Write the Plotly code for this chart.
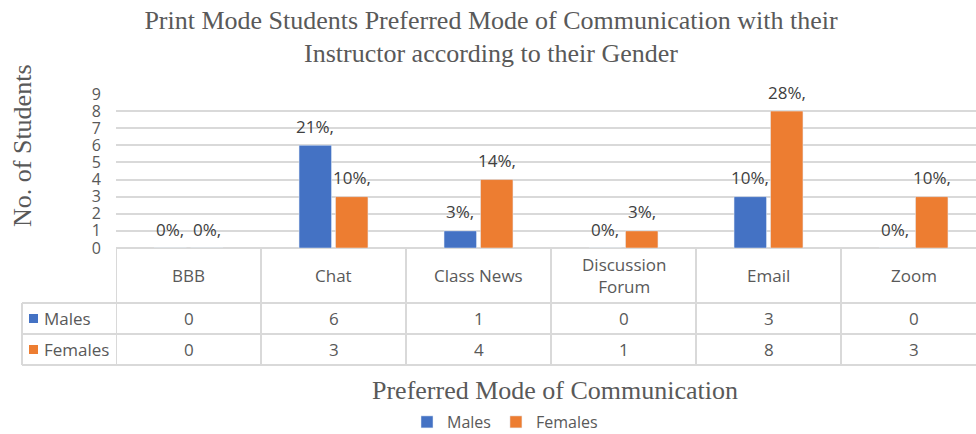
import textwrap
import plotly.graph_objects as go

# ---------------- data ----------------
categories = ["BBB", "Chat", "Class News", "Discussion Forum", "Email", "Zoom"]
males = [0, 6, 1, 0, 3, 0]
females = [0, 3, 4, 1, 8, 3]
males_pct = [0, 21, 3, 0, 10, 0]
females_pct = [0, 10, 14, 3, 28, 10]
y_ticks = list(range(0, 10))

title_text = ("Print Mode Students Preferred Mode of Communication with their<br>"
              "Instructor according to their Gender")
x_title = "Preferred Mode of Communication"
y_title = "No. of Students"

# ---------------- style / layout constants ----------------
W, H = 976, 434
L, R, T, B = 116, 0, 94, 186
PW, PH = W - L - R, H - T - B
CAT_PX = 145.0                       # pixel width of one category column
BARGAP = 0.497
BARGROUPGAP = 0.11
BLUE, ORANGE = "#4472C4", "#ED7D31"
GRID = "#D9D9D9"
TXT = "#595959"
LBL = "#404040"
SANS = "Open Sans"
SERIF = "Liberation Serif"

x_span = PW / CAT_PX
x_range = [-0.5, -0.5 + x_span]


def py(p):      # pixel row -> paper y
    return (H - B - p) / PH


def px(p):      # pixel column -> paper x
    return (p - L) / PW


fig = go.Figure()
fig.add_trace(go.Bar(name="Males", x=categories, y=males, marker_color=BLUE))
fig.add_trace(go.Bar(name="Females", x=categories, y=females, marker_color=ORANGE))

annotations = []
shapes = []

# data labels above bars
slot = CAT_PX * (1 - BARGAP) / 2
for series, pcts, sgn in ((males, males_pct, -1), (females, females_pct, 1)):
    for c, v, p in zip(categories, series, pcts):
        annotations.append(dict(
            xref="x", yref="y", x=c, y=v, xshift=sgn * slot / 2, yshift=19,
            text=f"{p}%,", showarrow=False, yanchor="middle",
            font=dict(family=SANS, size=17, color=LBL)))

# ---------------- data table below the plot ----------------
row_top, row1, row2, row3 = 248, 303, 334, 365
left_edge = 22
line = dict(color=GRID, width=2)
# horizontal lines
shapes.append(dict(type="line", xref="paper", yref="paper",
                   x0=0, x1=1, y0=py(row_top), y1=py(row_top), line=line, layer="below"))
for r in (row1, row2, row3):
    shapes.append(dict(type="line", xref="paper", yref="paper",
                       x0=px(left_edge), x1=1, y0=py(r), y1=py(r), line=line))
# vertical lines
shapes.append(dict(type="line", xref="paper", yref="paper",
                   x0=px(left_edge), x1=px(left_edge), y0=py(row1), y1=py(row3), line=line))
for i in range(len(categories)):
    xb = i - 0.5
    if x_range[0] <= xb <= x_range[1]:
        shapes.append(dict(type="line", xref="x", yref="paper",
                           x0=xb, x1=xb, y0=py(row_top), y1=py(row3), line=line))

# category header row
for c in categories:
    lab = "<br>".join(textwrap.wrap(c, 12))
    annotations.append(dict(xref="x", yref="paper", x=c, y=py((row_top + row1) / 2),
                            text=lab, showarrow=False, yanchor="middle",
                            font=dict(family=SANS, size=17, color=TXT)))
# value rows
for name, series, color, r0, r1 in (("Males", males, BLUE, row1, row2),
                                     ("Females", females, ORANGE, row2, row3)):
    yc = py((r0 + r1) / 2)
    shapes.append(dict(type="rect", xref="paper", yref="paper",
                       x0=px(29), x1=px(38), y0=yc - 4.5 / PH, y1=yc + 4.5 / PH,
                       fillcolor=color, line=dict(width=0)))
    annotations.append(dict(xref="paper", yref="paper", x=px(42), y=yc, xanchor="left",
                            text=name, showarrow=False, yanchor="middle",
                            font=dict(family=SANS, size=17, color=TXT)))
    for c, v in zip(categories, series):
        annotations.append(dict(xref="x", yref="paper", x=c, y=yc, text=str(v),
                                showarrow=False, yanchor="middle",
                                font=dict(family=SANS, size=17, color=TXT)))

# axis titles
annotations.append(dict(xref="paper", yref="paper", x=px(555), y=py(390), text=x_title,
                        showarrow=False, xanchor="center", yanchor="middle",
                        font=dict(family=SERIF, size=26, color=TXT)))
annotations.append(dict(xref="paper", yref="paper", x=px(22), y=py(146), text=y_title,
                        textangle=-90, showarrow=False, xanchor="center", yanchor="middle",
                        font=dict(family=SERIF, size=26, color=TXT)))

fig.update_layout(
    width=W, height=H,
    margin=dict(l=L, r=R, t=T, b=B, pad=0, autoexpand=False),
    paper_bgcolor="white", plot_bgcolor="white",
    barmode="group", bargap=BARGAP, bargroupgap=BARGROUPGAP,
    title=dict(text=title_text, x=491 / W, xanchor="center", xref="container",
               yref="container", y=1 - 28.5 / H, yanchor="middle",
               font=dict(family=SERIF, size=26, color=TXT)),
    xaxis=dict(range=x_range, showticklabels=False, showgrid=False, zeroline=False,
               showline=False, ticks=""),
    yaxis=dict(range=[0, 9], tickvals=y_ticks, showgrid=True, gridcolor=GRID, gridwidth=1.5,
               zeroline=False, showline=False, ticks="", ticklabelstandoff=14,
               tickfont=dict(family=SANS, size=16, color=TXT)),
    legend=dict(orientation="h", xref="container", yref="container",
                x=505 / W, xanchor="center", y=1 - 422 / H, yanchor="middle",
                font=dict(family=SANS, size=16, color=TXT), itemwidth=30,
                tracegroupgap=0, bgcolor="rgba(0,0,0,0)"),
    annotations=annotations, shapes=shapes,
    showlegend=True,
)

fig.write_html("out.html", config={"displayModeBar": False},
               post_script="document.body.style.margin='0';document.body.style.overflow='hidden';")
